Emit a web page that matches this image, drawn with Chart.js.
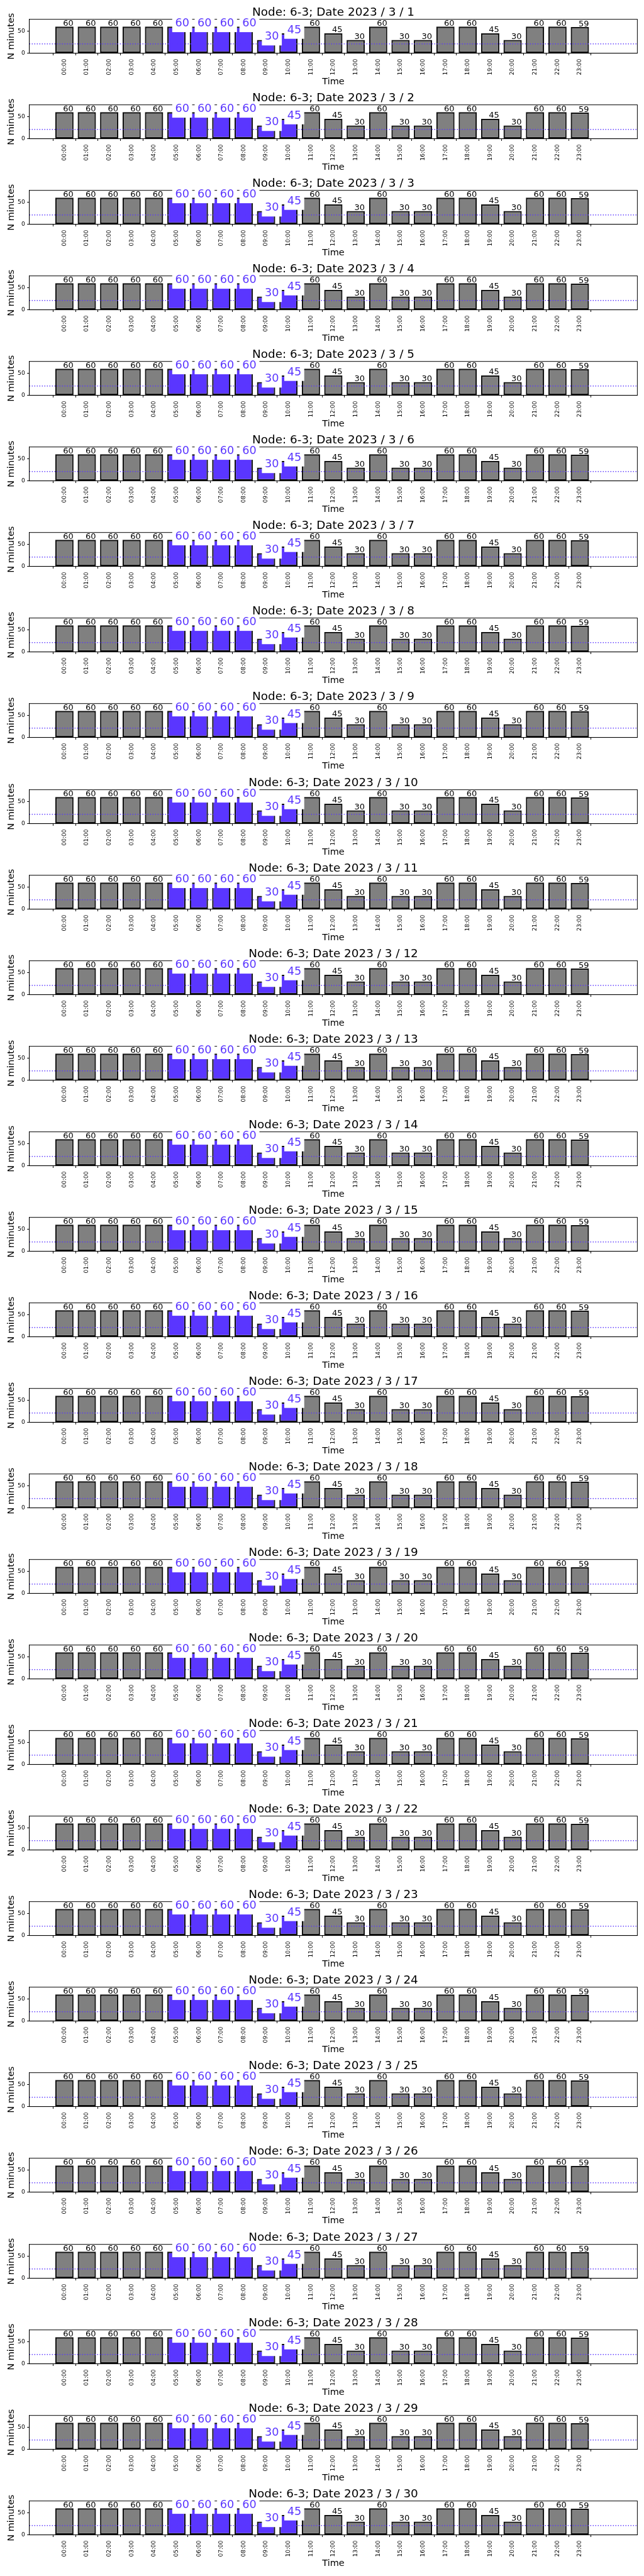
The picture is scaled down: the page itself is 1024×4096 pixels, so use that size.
<!DOCTYPE html>
<html>
<head>
<meta charset="utf-8">
<script src="https://cdn.jsdelivr.net/npm/chart.js@4.4.1/dist/chart.umd.min.js"></script>
<style>
  html, body { margin: 0; padding: 0; background: #fff; }
  #page { position: relative; width: 1024px; height: 4096px; }
  #page canvas { position: absolute; left: 0; }
</style>
</head>
<body>
<div id="page"></div>
<script>
// values
const node = "6-3";
const year = 2023;
const month = 3;
const days = [1, 2, 3, 4, 5, 6, 7, 8, 9, 10, 11, 12, 13, 14, 15,
  16, 17, 18, 19, 20, 21, 22, 23, 24, 25, 26, 27, 28, 29, 30];
const hours = ["00:00", "01:00", "02:00", "03:00", "04:00", "05:00", "06:00", "07:00",
  "08:00", "09:00", "10:00", "11:00", "12:00", "13:00", "14:00", "15:00",
  "16:00", "17:00", "18:00", "19:00", "20:00", "21:00", "22:00", "23:00"];
// same profile on every day
const minutes = [60, 60, 60, 60, 60, 60, 60, 60, 60, 30, 45, 60,
  45, 30, 60, 30, 30, 60, 60, 45, 30, 60, 60, 59];
const flaggedHours = [5, 6, 7, 8, 9, 10]; // drawn in blue
const refMinutes = 21; // dotted line
const yTicks = [0, 50];
const yMax = 76.5;

const BLUE = "#5a36ff";
const GREY = "#808080";
const FONT = "DejaVu Sans";
const S = 0.682; // scale from the 1500px wide original

//--------------------------------------------------------
// dotted line, frame, value labels, titles
const overlay = {
  id: "overlay",
  afterDatasetsDraw(chart) {
    const { ctx, chartArea: a, scales } = chart;
    const x = scales.x, y = scales.y;
    ctx.save();
    const ly = y.getPixelForValue(refMinutes);
    ctx.strokeStyle = BLUE;
    ctx.lineWidth = 1.4;
    ctx.setLineDash([1.4, 2.6]);
    ctx.beginPath();
    ctx.moveTo(a.left, ly);
    ctx.lineTo(a.right, ly);
    ctx.stroke();
    ctx.setLineDash([]);

    ctx.strokeStyle = "#000";
    ctx.lineWidth = 1;
    ctx.strokeRect(a.left, a.top, a.right - a.left, a.bottom - a.top);

    ctx.textAlign = "left";
    ctx.textBaseline = "alphabetic";
    minutes.forEach((v, i) => {
      const px = x.getPixelForValue(i) - 2.1;
      const py = y.getPixelForValue(v);
      if (flaggedHours.includes(i)) {
        const fs = 17.7;
        ctx.font = fs + "px '" + FONT + "'";
        const w = ctx.measureText(String(v)).width;
        const pad = 4.6;
        ctx.fillStyle = "#fff";
        ctx.fillRect(px - pad, py - 0.76 * fs - pad, w + 2 * pad, 0.996 * fs + 2 * pad);
        ctx.fillStyle = BLUE;
        ctx.fillText(String(v), px, py);
      } else {
        ctx.font = "13px '" + FONT + "'";
        ctx.fillStyle = "#000";
        ctx.fillText(String(v), px, py - 1.4);
      }
    });
    ctx.restore();
  },
  afterDraw(chart) {
    const { ctx, chartArea: a } = chart;
    const cx = (a.left + a.right) / 2;
    ctx.save();
    ctx.fillStyle = "#000";
    ctx.textAlign = "center";
    ctx.textBaseline = "alphabetic";
    ctx.font = "18.4px '" + FONT + "'";
    ctx.fillText(chart.options.plugins.overlay.title, cx, a.top - 6.1);
    ctx.font = "14.5px '" + FONT + "'";
    ctx.fillText("Time", cx, a.bottom + 49.6);
    ctx.translate(22, (a.top + a.bottom) / 2);
    ctx.rotate(-Math.PI / 2);
    ctx.fillText("N minutes", 0, 0);
    ctx.restore();
  },
};

//--------------------------------------------------------
function drawDay(day, idx) {
  const canvas = document.createElement("canvas");
  canvas.width = 1024;
  canvas.height = 137;
  canvas.style.top = Math.round(idx * 199.5 * S) + "px";
  document.getElementById("page").appendChild(canvas);

  const tickFont = { family: FONT, size: 9 };
  const config = {
    type: "bar",
    data: {
      datasets: [{
        data: minutes.map((m, i) => ({ x: i, y: m })),
        backgroundColor: minutes.map((m, i) => (flaggedHours.includes(i) ? BLUE : GREY)),
        borderColor: "#111",
        borderWidth: 2.3,
        borderSkipped: false,
        barPercentage: 0.815,
        categoryPercentage: 1,
      }],
    },
    options: {
      responsive: false,
      animation: false,
      devicePixelRatio: 1,
      layout: { padding: { top: 30.7, right: 10.6, left: 0, bottom: 0 } },
      plugins: {
        legend: { display: false },
        tooltip: { enabled: false },
        overlay: { title: "Node: " + node + "; Date " + year + " / " + month + " / " + day },
      },
      scales: {
        x: {
          type: "linear",
          min: -1,
          max: 25,
          afterBuildTicks: (s) => { s.ticks = hours.map((h, i) => ({ value: i })); },
          afterFit: (s) => { s.height = 52.4; },
          ticks: {
            callback: (v) => hours[v],
            autoSkip: false,
            minRotation: 90,
            maxRotation: 90,
            padding: 5.6,
            color: "#000",
            font: tickFont,
          },
          grid: { drawOnChartArea: false, tickLength: 3.4, color: "#000" },
          border: { color: "#000" },
        },
        y: {
          min: 0,
          max: yMax,
          afterBuildTicks: (s) => { s.ticks = yTicks.map((v) => ({ value: v })); },
          afterFit: (s) => { s.width = 46.6; },
          ticks: { padding: 3.4, color: "#000", font: { family: FONT, size: 9.2 } },
          grid: { drawOnChartArea: false, tickLength: 3.4, color: "#000" },
          border: { color: "#000" },
        },
      },
    },
    plugins: [overlay],
  };
  return new Chart(canvas, config);
}

days.forEach((d, i) => drawDay(d, i));
</script>
</body>
</html>
